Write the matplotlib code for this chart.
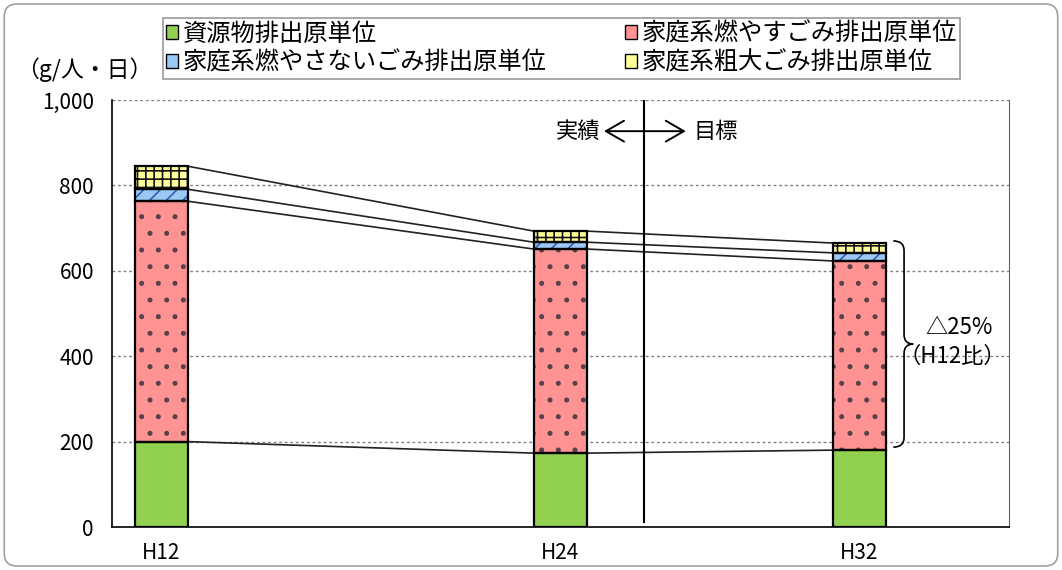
import matplotlib
matplotlib.use("Agg")
import matplotlib.pyplot as plt
import matplotlib.patches as mpatches
from matplotlib.path import Path
import numpy as np

plt.rcParams["font.family"] = ["Noto Sans CJK JP", "DejaVu Sans"]
plt.rcParams["hatch.linewidth"] = 1.2

# ── data ─────────────────────────────────────────────────────────────────────
categories = ["H12", "H24", "H32"]
x_pos = [0.0, 1.0, 1.75]          # uneven spacing as in the original

resource   = [200, 173, 180]      # 資源物排出原単位
burnable   = [563, 478, 443]      # 家庭系燃やすごみ排出原単位
unburnable = [28, 16, 19]         # 家庭系燃やさないごみ排出原単位
bulky      = [54, 26, 23]         # 家庭系粗大ごみ排出原単位

labels = [
    "資源物排出原単位",
    "家庭系燃やすごみ排出原単位",
    "家庭系燃やさないごみ排出原単位",
    "家庭系粗大ごみ排出原単位",
]
series = [resource, burnable, unburnable, bulky]
faces   = ["#92D050", "#FF9393", "#9CC8F5", "#FFFF99"]
hatches = [None, ".", "//", "++"]
hatch_c = [None, "#5a4048", "#2F5FB0", "#111111"]

W = 0.133

fig = plt.figure(figsize=(10.62, 5.70), dpi=100)
ax = fig.add_axes([112 / 1062, 43 / 570, 897 / 1062, 427 / 570])

# outer rounded frame
frame = mpatches.FancyBboxPatch(
    (0.004, 0.007), 0.992, 0.986, boxstyle="round,pad=0,rounding_size=0.012",
    transform=fig.transFigure, mutation_aspect=1062 / 570,
    facecolor="none", edgecolor="#a0a0a0", linewidth=1.2, zorder=0)
fig.patches.append(frame)

# ── stacked bars ─────────────────────────────────────────────────────────────
bottoms = np.zeros(len(categories))
tops = []
for vals, fc, h, hc in zip(series, faces, hatches, hatch_c):
    vals = np.array(vals, dtype=float)
    ax.bar(x_pos, vals, W, bottom=bottoms, color=fc, edgecolor="none", zorder=3)
    if h:
        ax.bar(x_pos, vals, W, bottom=bottoms, facecolor="none",
               edgecolor=hc, hatch=h, linewidth=0, zorder=4)
    ax.bar(x_pos, vals, W, bottom=bottoms, facecolor="none",
           edgecolor="black", linewidth=1.6, zorder=5)
    bottoms = bottoms + vals
    tops.append(bottoms.copy())

# connector lines between bar tops
for level in tops:
    for i in range(len(x_pos) - 1):
        ax.plot([x_pos[i] + W / 2, x_pos[i + 1] - W / 2], [level[i], level[i + 1]],
                color="#222222", linewidth=1.2, zorder=2)

# ── axes styling ─────────────────────────────────────────────────────────────
ax.set_xlim(-0.123, 2.125)
ax.set_ylim(0, 1000)
ax.set_yticks(np.arange(0, 1001, 200))
ax.set_yticklabels([f"{v:,}" for v in range(0, 1001, 200)])
ax.set_xticks(x_pos)
ax.set_xticklabels(categories)
ax.tick_params(axis="both", length=0, labelsize=15)
ax.tick_params(axis="y", pad=13)
ax.tick_params(axis="x", pad=11)
for v in range(200, 1001, 200):
    ax.axhline(v, color="#808080", linestyle=(0, (2, 2)), linewidth=1.0, zorder=1)
ax.spines["top"].set_visible(False)
ax.spines["right"].set_color("#606060")
ax.spines["left"].set_linewidth(1.2)
ax.spines["bottom"].set_linewidth(1.2)

# divider between actual and target
div_x = 1.21
ax.axvline(div_x, ymin=0.012, ymax=1.0, color="black", linewidth=1.5, zorder=2)
ax.annotate("", xy=(div_x - 0.10, 927), xytext=(div_x + 0.105, 927),
            arrowprops=dict(arrowstyle="<->,head_length=1.3,head_width=0.75",
                            color="black", linewidth=1.4, shrinkA=0, shrinkB=0))
ax.text(div_x - 0.11, 927, "実績", ha="right", va="center", fontsize=16)
ax.text(div_x + 0.125, 927, "目標", ha="left", va="center", fontsize=16)

# brace for the H32 reduction
top = tops[-1][-1] + 5
bot = resource[-1] + 7
mid = (top + bot) / 2
xa, xb, xc = 1.835, 1.862, 1.885
d = 22
verts = [(xa, top), (xb, top), (xb, top - d),
         (xb, mid + d), (xb, mid), (xc, mid),
         (xb, mid), (xb, mid - d),
         (xb, bot + d), (xb, bot), (xa, bot)]
codes = [Path.MOVETO, Path.CURVE3, Path.CURVE3,
         Path.LINETO, Path.CURVE3, Path.CURVE3,
         Path.CURVE3, Path.CURVE3,
         Path.LINETO, Path.CURVE3, Path.CURVE3]
ax.add_patch(mpatches.PathPatch(Path(verts, codes), facecolor="none",
                                edgecolor="black", linewidth=1.2, clip_on=False))
ax.text(2.0, mid + 38, "△25%", ha="center", va="center", fontsize=16)
ax.text(1.983, mid - 30, "（H12比）", ha="center", va="center", fontsize=16)

# y unit label
fig.text(84 / 1062, 1 - 70 / 570, "（g/人・日）", ha="center", va="center", fontsize=16.5)

# ── legend ───────────────────────────────────────────────────────────────────
handles = [mpatches.Patch(facecolor=fc, edgecolor="black", linewidth=1.0)
           for fc in faces]
order = [0, 2, 1, 3]
leg = fig.legend([handles[i] for i in order], [labels[i] for i in order],
                 loc="upper left", ncol=2, mode="expand",
                 bbox_to_anchor=(163 / 1062, 1 - 18 / 570, 797 / 1062, 0.0),
                 borderaxespad=0, fontsize=17.5, frameon=True, fancybox=False,
                 edgecolor="#808080", handlelength=0.5, handleheight=0.5,
                 handletextpad=0.2, labelspacing=0.12, borderpad=0.12)
leg.get_frame().set_linewidth(1.2)

fig.savefig("out.png", dpi=100)
